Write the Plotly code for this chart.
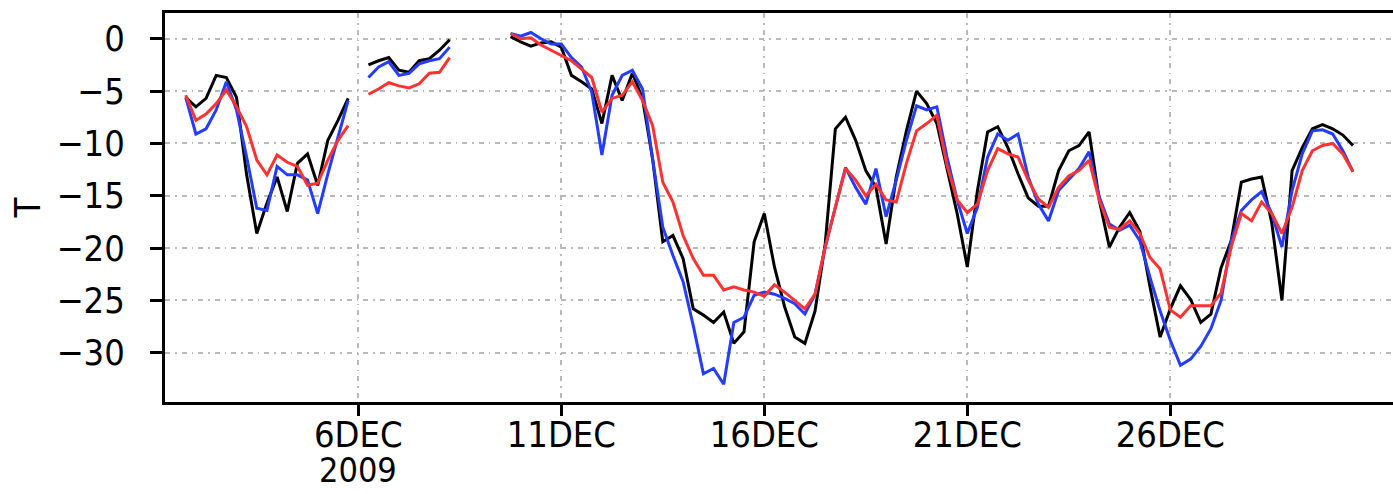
import pandas as pd
import plotly.graph_objects as go

# Three 6-hourly segments of temperature (three data sources)
seg_starts = ["2009-12-01 18:00", "2009-12-06 06:00", "2009-12-09 18:00"]

black_1 = [-5.6, -6.5, -5.7, -3.5, -3.7, -5.6, -13.0, -18.6, -15.7, -13.2, -16.5,
           -11.9, -11.0, -14.0, -9.7, -7.8, -5.7]
black_2 = [-2.5, -2.1, -1.8, -3.0, -3.2, -2.1, -1.9, -1.1, -0.1]
black_3 = [0.2, -0.3, -0.7, -0.4, -0.3, -0.8, -3.5, -4.1, -4.8, -8.1,
           -3.5, -5.9, -3.3, -5.7, -11.5, -19.4, -18.8, -21.0, -25.8, -26.4,
           -27.1, -26.1, -29.1, -28.0, -19.4, -16.7, -21.8, -25.6, -28.5, -29.1,
           -26.0, -19.6, -8.6, -7.5, -9.7, -12.6, -14.2, -19.6, -13.2, -8.8,
           -5.0, -6.2, -8.1, -12.3, -16.7, -21.8, -14.5, -8.9, -8.4, -10.4,
           -12.9, -15.2, -16.0, -16.0, -12.6, -10.7, -10.2, -8.9, -15.4, -19.9,
           -18.0, -16.6, -18.4, -23.7, -28.5, -25.8, -23.6, -24.9, -27.1, -26.3,
           -21.9, -19.3, -13.7, -13.4, -13.2, -17.6, -25.0, -12.6, -10.4, -8.6,
           -8.2, -8.6, -9.2, -10.2]

blue_1 = [-5.6, -9.1, -8.6, -6.8, -4.1, -6.8, -11.3, -16.2, -16.4, -12.2, -13.0,
          -13.0, -13.5, -16.7, -12.9, -9.4, -5.9]
blue_2 = [-3.7, -2.7, -2.2, -3.5, -3.3, -2.4, -2.1, -1.9, -0.8]
blue_3 = [0.5, 0.25, 0.6, 0.0, -0.5, -0.5, -1.8, -2.7, -5.1, -11.1,
          -5.4, -3.5, -3.0, -4.8, -11.5, -18.0, -20.7, -23.2, -27.4, -32.0,
          -31.5, -33.0, -27.1, -26.6, -24.5, -24.2, -24.4, -24.8, -25.3, -26.3,
          -24.4, -19.9, -16.1, -12.3, -14.2, -15.8, -12.4, -17.0, -13.5, -9.7,
          -6.4, -6.8, -6.5, -11.3, -15.4, -18.6, -16.1, -11.3, -9.1, -9.7,
          -9.1, -13.2, -15.8, -17.4, -14.5, -13.5, -12.4, -10.8, -15.1, -17.7,
          -18.3, -17.8, -19.3, -22.8, -26.0, -28.8, -31.2, -30.6, -29.4, -27.7,
          -25.0, -19.3, -16.4, -15.4, -14.6, -16.7, -19.9, -14.5, -11.0, -8.8,
          -8.7, -9.1, -10.7, -12.7]

red_1 = [-5.4, -7.8, -7.2, -6.2, -4.9, -6.5, -8.4, -11.6, -13.0, -11.1, -11.8,
         -12.2, -14.0, -13.8, -11.6, -9.7, -8.3]
red_2 = [-5.3, -4.8, -4.2, -4.5, -4.7, -4.3, -3.3, -3.2, -1.8]
red_3 = [0.5, 0.0, 0.1, -0.6, -1.1, -1.6, -2.1, -2.9, -3.7, -7.0,
         -5.7, -5.4, -4.1, -5.9, -8.3, -13.7, -15.6, -18.8, -21.0, -22.6,
         -22.6, -24.0, -23.7, -24.0, -24.2, -24.6, -23.5, -24.2, -25.0, -25.8,
         -24.4, -19.9, -16.1, -12.4, -13.5, -15.0, -13.9, -15.4, -15.6, -11.9,
         -8.8, -8.1, -7.3, -12.1, -15.4, -16.6, -15.8, -12.6, -10.5, -11.0,
         -11.3, -13.5, -15.3, -16.1, -14.2, -13.1, -12.6, -11.6, -15.4, -18.0,
         -18.2, -17.4, -18.6, -20.9, -22.0, -25.9, -26.6, -25.5, -25.5, -25.5,
         -24.3, -19.9, -16.7, -17.4, -15.6, -16.7, -18.6, -16.1, -12.6, -10.7,
         -10.2, -10.0, -11.0, -12.7]

tick_dates = ["2009-12-06", "2009-12-11", "2009-12-16", "2009-12-21", "2009-12-26"]
tick_text = ["6DEC", "11DEC", "16DEC", "21DEC", "26DEC"]
y_ticks = [0, -5, -10, -15, -20, -25, -30]


def join_segments(segments):
    """Concatenate 6-hourly segments, leaving a gap between them."""
    xs, ys = [], []
    for start, vals in zip(seg_starts, segments):
        times = pd.date_range(start, periods=len(vals), freq="6h")
        if xs:
            xs.append(None)
            ys.append(None)
        xs.extend(times)
        ys.extend(vals)
    return xs, ys


FONT = "DejaVu Sans Condensed, Liberation Sans Narrow, DejaVu Sans, sans-serif"

fig = go.Figure()
for segs, color in [((black_1, black_2, black_3), "rgb(0,0,0)"),
                    ((blue_1, blue_2, blue_3), "rgb(35,60,255)"),
                    ((red_1, red_2, red_3), "rgb(255,50,50)")]:
    xs, ys = join_segments(segs)
    fig.add_trace(go.Scatter(x=xs, y=ys, mode="lines", connectgaps=False,
                             line=dict(color=color, width=3), showlegend=False,
                             hoverinfo="skip"))

grid = dict(showgrid=True, gridcolor="rgb(185,185,185)", gridwidth=1.5,
            griddash="5px,5px,1.5px,5px")

fig.update_xaxes(type="date", range=["2009-12-01 05:44", "2009-12-31 11:39"],
                 tickmode="array", tickvals=tick_dates, ticktext=tick_text,
                 ticks="outside", ticklen=11, tickwidth=3, tickcolor="black",
                 showline=True, linewidth=3, linecolor="black", mirror=True,
                 zeroline=False, ticklabelstandoff=-12,
                 tickfont=dict(family=FONT, size=36, color="black"), **grid)
fig.update_yaxes(range=[-34.7, 2.46], tickmode="array", tickvals=y_ticks,
                 ticks="outside", ticklen=12, tickwidth=3, tickcolor="black",
                 showline=True, linewidth=3, linecolor="black", mirror=False,
                 zeroline=False, ticklabelstandoff=18,
                 tickfont=dict(family=FONT, size=36, color="black"), **grid)

fig.add_annotation(x="2009-12-06", y=-0.176, xref="x", yref="paper",
                   text="2009", showarrow=False, xanchor="center", yanchor="middle",
                   font=dict(family=FONT, size=34, color="black"))
fig.add_annotation(x=-0.1116, y=0.5, xref="paper", yref="paper",
                   text="T", textangle=-90, showarrow=False,
                   xanchor="center", yanchor="middle",
                   font=dict(family=FONT, size=36, color="black"))

fig.update_layout(width=1393, height=494, paper_bgcolor="white",
                  plot_bgcolor="white",
                  margin=dict(l=165, r=0, t=13, b=92, pad=0))

fig.write_html("out.html")
